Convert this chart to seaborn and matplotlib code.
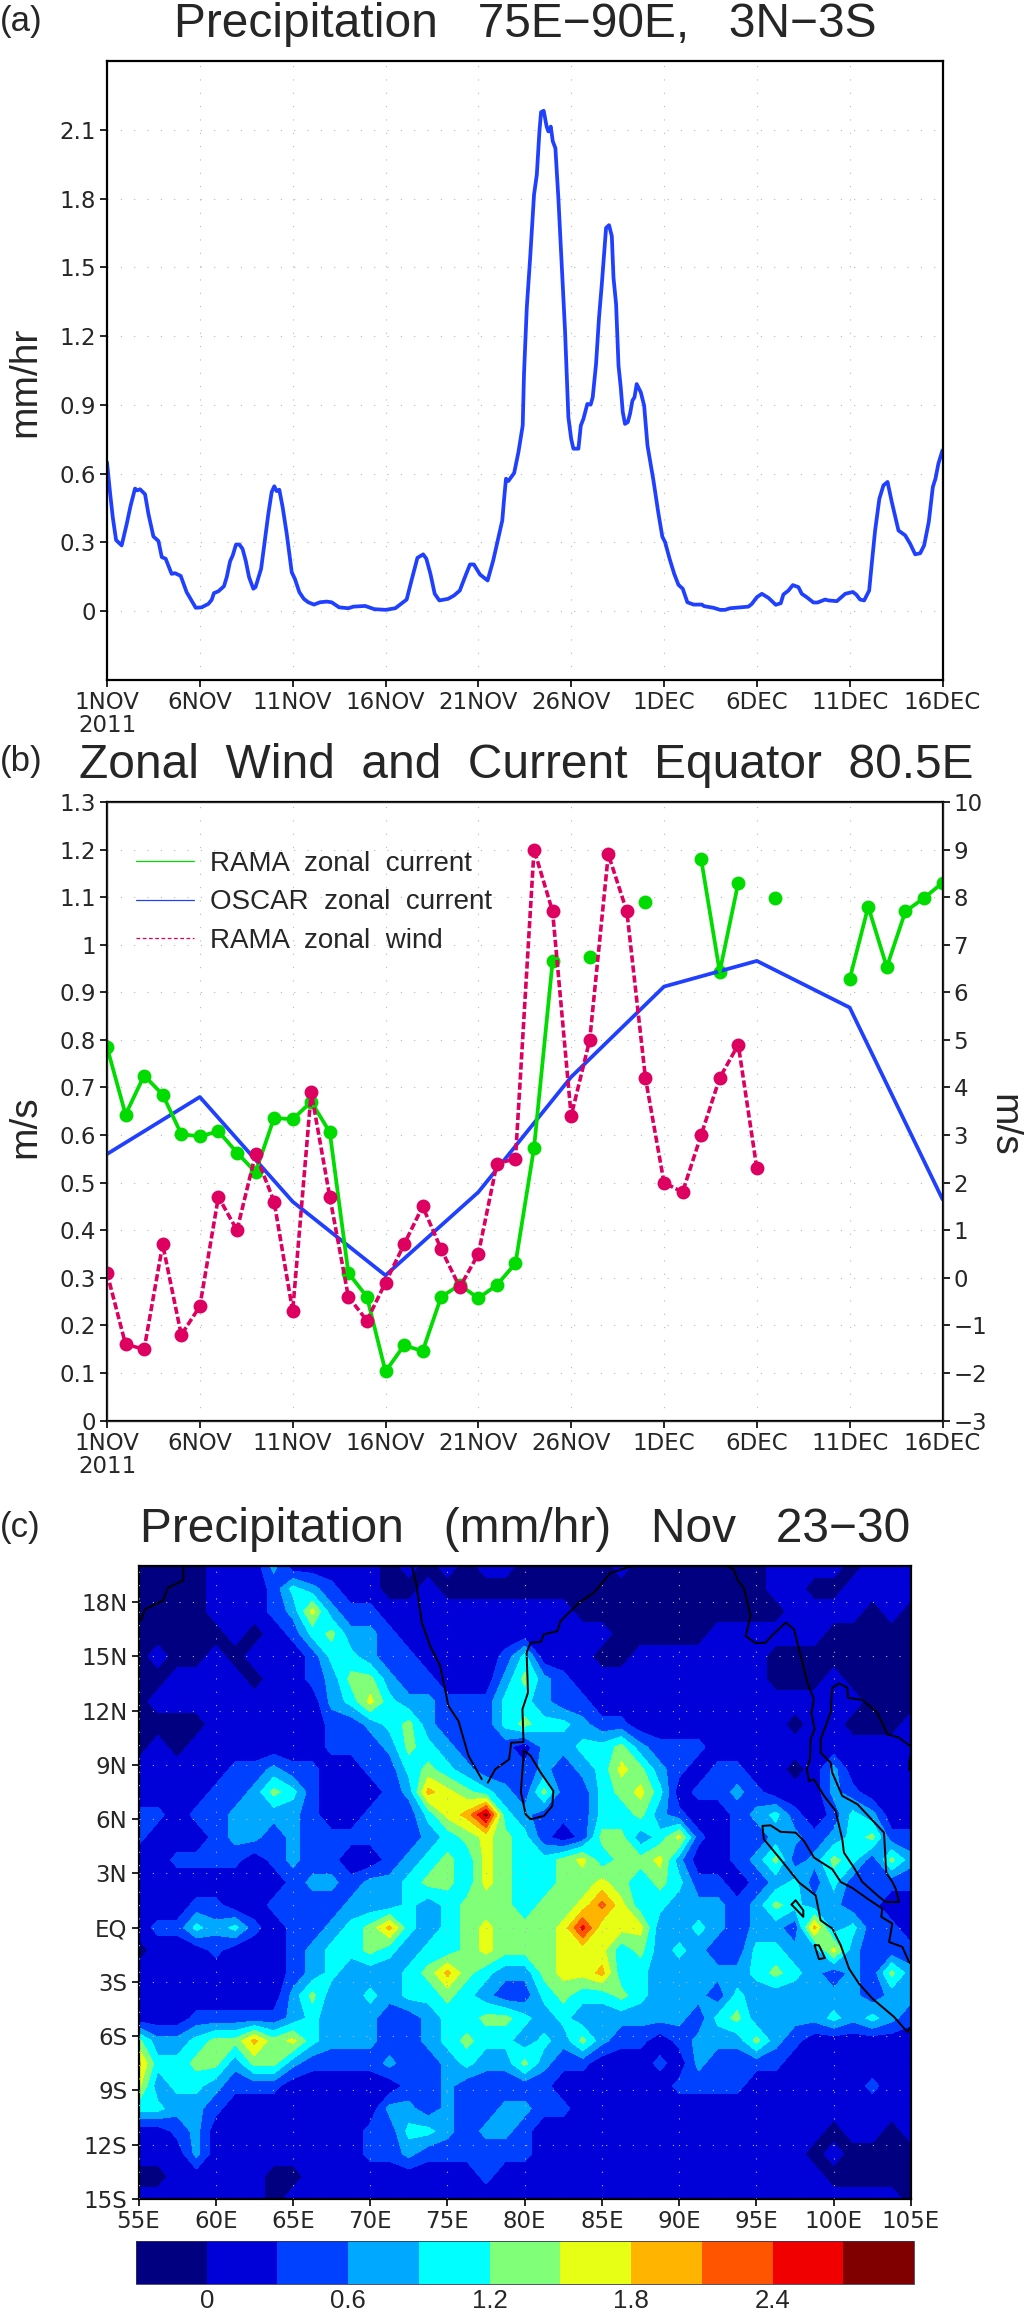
"""
Three panel figure: area mean rain, zonal wind and current, rain map.
"""
import numpy as np
import pandas as pd
import matplotlib
matplotlib.use('Agg')
import matplotlib.pyplot as plt
from matplotlib.lines import Line2D
import seaborn as sns

# panel (a), day since 1 Nov 2011 and rain in mm/hr
precip_day = [0, .16, .31, .49, .79, 1.06, 1.27, 1.51, 1.63, 1.78, 2.05, 2.23, 2.5, 2.77, 2.95, 3.16, 3.48, 3.66,
              3.97, 4.29, 4.78, 5.1, 5.46, 5.64, 5.76, 6.0, 6.3, 6.45, 6.63, 6.77, 6.95, 7.13, 7.3, 7.47, 7.65,
              7.88, 8.0, 8.3, 8.5, 8.69, 8.87, 9.01, 9.14, 9.28, 9.46, 9.68, 9.95, 10.12, 10.36, 10.6, 10.84,
              11.15, 11.47, 11.83, 12.1, 12.5, 13, 13.27, 13.9, 14.4, 15, 15.53, 16.14, 16.4, 16.72, 17.03, 17.2,
              17.42, 17.65, 17.9, 18.37, 18.68, 19.0, 19.28, 19.55, 19.76, 20.09, 20.5, 20.8, 21.11, 21.29, 21.38,
              21.49, 21.62, 21.93, 22.16, 22.39, 22.46, 22.61, 22.79, 23.0, 23.15, 23.29, 23.38, 23.52, 23.68,
              23.77, 23.9, 24.01, 24.15, 24.31, 24.49, 24.67, 24.85, 25.0, 25.12, 25.39, 25.52, 25.66, 25.87,
              26.05, 26.16, 26.34, 26.5, 26.65, 26.88, 27.04, 27.19, 27.28, 27.42, 27.55, 27.67, 27.78, 27.9,
              28.05, 28.17, 28.3, 28.41, 28.53, 28.75, 28.93, 29.11, 29.43, 29.7, 29.91, 30.06, 30.3, 30.55,
              30.78, 31.01, 31.26, 31.59, 32.04, 32.16, 32.66, 33.02, 33.29, 33.56, 34.55, 34.73, 35.0, 35.27,
              35.63, 36.02, 36.29, 36.43, 36.7, 36.94, 37.24, 37.42, 37.69, 38.05, 38.27, 38.68, 38.86, 39.31,
              39.76, 40.17, 40.35, 40.56, 40.78, 41.05, 41.19, 41.37, 41.6, 41.82, 42.04, 42.27, 42.63, 42.99,
              43.26, 43.53, 43.8, 44.01, 44.26, 44.48, 44.62, 44.78, 45.0]
precip_rate = [.65, .52, .41, .31, .287, .38, .46, .535, .527, .532, .51, .425, .326, .306, .236, .229, .163, .166,
               .154, .083, .015, .017, .032, .05, .079, .087, .109, .149, .218, .243, .291, .291, .272, .221, .149,
               .098, .105, .185, .309, .425, .52, .545, .524, .53, .454, .338, .17, .141, .083, .054, .039,
               .029, .039, .042, .039, .017, .013, .02, .023, .009, .006, .013, .051, .134, .233, .248, .229,
               .163, .076, .047, .054, .068, .09, .149, .204, .204, .16, .134, .221, .331, .396, .483,
               .578, .568, .603, .694, .81, 1.035, 1.325, 1.54, 1.817, 1.904, 2.093, 2.177, 2.183, 2.114,
               2.093, 2.114, 2.05, 2.02, 1.803, 1.513, 1.223, .846, .752, .709, .709, .81, .839, .904,
               .901, .933, 1.078, 1.281, 1.426, 1.672, 1.684, 1.636, 1.455, 1.339, 1.071, .977, .868, .817,
               .825, .861, .919, .933, .991, .955, .897, .723, .571, .426, .325, .301, .229, .163,
               .115, .098, .039, .029, .029, .022, .015, .006, .006, .013, .02, .032, .061, .076,
               .058, .028, .035, .073, .09, .114, .105, .076, .061, .038, .038, .051, .047, .044,
               .076, .084, .073, .051, .047, .09, .207, .352, .491, .549, .564, .476, .352, .331,
               .294, .248, .253, .287, .389, .542, .578, .644, .702]

# panel (b), daily values 1 Nov to 16 Dec
rama_current = [.785, .643, .725, .685, .602, .597, .608, .563, .522, .636, .633, .67, .606, .31, .26, .103, .158,
                .146, .26, .285, .257, .285, .33, .573, .965, np.nan, .975, np.nan, np.nan, 1.09, np.nan, np.nan,
                1.18, .943, 1.13, np.nan, 1.098, np.nan, np.nan, np.nan, .928, 1.08, .953, 1.07, 1.098, 1.13]
rama_wind = [.1, -1.4, -1.5, .7, -1.2, -.6, 1.7, 1.0, 2.6, 1.6, -.7, 3.9, 1.7, -.4, -.9, -.1, .7, 1.5, .6, -.2, .5,
             2.4, 2.5, 9.0, 7.7, 3.4, 5.0, 8.9, 7.7, 4.2, 2.0, 1.8, 3.0, 4.2, 4.9, 2.3]
oscar_day = [0, 5, 10, 15, 20, 25, 30, 35, 40, 45]
oscar_current = [.56, .68, .46, .305, .48, .722, .912, .966, .868, .465]

day_ticks = [0, 5, 10, 15, 20, 25, 30, 35, 40, 45]
day_labels = ['1NOV\n2011', '6NOV', '11NOV', '16NOV', '21NOV', '26NOV', '1DEC', '6DEC', '11DEC', '16DEC']
rate_ticks = [0, .3, .6, .9, 1.2, 1.5, 1.8, 2.1]
rate_labels = ['0', '0.3', '0.6', '0.9', '1.2', '1.5', '1.8', '2.1']
current_ticks = [0, .1, .2, .3, .4, .5, .6, .7, .8, .9, 1, 1.1, 1.2, 1.3]
current_labels = ['0', '0.1', '0.2', '0.3', '0.4', '0.5', '0.6', '0.7', '0.8', '0.9', '1', '1.1', '1.2', '1.3']
wind_ticks = [-3, -2, -1, 0, 1, 2, 3, 4, 5, 6, 7, 8, 9, 10]
wind_labels = ['\u22123', '\u22122', '\u22121', '0', '1', '2', '3', '4', '5', '6', '7', '8', '9', '10']

# panel (c), rain in 0.1 mm/hr, rows from 20N to 15S every 1.25 deg
rain_west = [  # 55E to 80E
    [-1, -1, -1, -1, 1, 1, 1, 7, 1, 1, 1, 1, 1, -1, 1, -1, 1, -1, 1, 1, -1],
    [-1, -1, -1, -1, 1, 1, 1, 4, 10, 7, 4, 1, 1, -1, -1, 1, -1, -1, -1, -1, -1],
    [-1, -1, -1, -1, 1, 1, 1, 4, 7, 16, 7, 4, 4, 1, 1, 1, 1, 1, 1, 1, 1],
    [-1, -1, -1, -1, -1, 1, -1, 1, 4, 10, 13, 7, 7, 4, 1, 1, 1, 1, 1, 1, 1],
    [-1, 1, -1, -1, 1, -1, 1, 1, 1, 4, 10, 10, 7, 4, 4, 1, 1, 1, 1, 4, 10],
    [-1, -1, 1, 1, 1, 1, -1, 1, 1, 4, 7, 13, 13, 7, 4, 4, 1, 1, 1, 7, 13],
    [-1, 1, 1, 1, 1, 1, 1, 1, 1, 1, 7, 10, 16, 10, 7, 7, 4, 4, 4, 10, 10],
    [-1, -1, -1, -1, 1, 1, 1, 1, 1, 1, 4, 4, 7, 10, 13, 7, 4, 4, 4, 10, 13],
    [-1, 1, -1, 1, 1, 1, 1, 1, 1, 1, 4, 4, 4, 7, 13, 10, 7, 4, 4, 4, 1],
    [1, 1, 1, 1, 1, 4, 4, 7, 4, 4, 1, 1, 4, 4, 10, 13, 10, 7, 4, 4, 4],
    [1, 1, 1, 1, 4, 4, 7, 13, 10, 4, 1, 1, 1, 4, 7, 19, 16, 13, 10, 7, 4],
    [4, 4, 1, 4, 4, 7, 7, 7, 7, 4, 1, 1, 4, 4, 4, 10, 16, 19, 28, 10, 7],
    [4, 1, 1, 1, 4, 7, 7, 4, 7, 4, 4, 4, 4, 4, 4, 7, 10, 13, 16, 13, 10],
    [1, 1, 4, 4, 4, 4, 1, 4, 7, 4, 4, 1, 1, 4, 7, 10, 13, 10, 16, 13, 10],
    [1, 1, 1, 1, 1, 1, 1, 1, 4, 7, 7, 4, 7, 7, 10, 13, 13, 10, 16, 13, 10],
    [1, 1, 1, 4, 4, 1, 1, 4, 4, 4, 4, 7, 7, 7, 10, 7, 10, 13, 13, 13, 10],
    [1, 4, 4, 10, 7, 10, 4, 1, 4, 4, 7, 10, 13, 19, 10, 7, 10, 13, 16, 13, 13],
    [-1, 1, 1, 1, 4, 1, 1, 1, 4, 7, 10, 10, 13, 10, 7, 10, 10, 13, 16, 13, 13],
    [1, 1, 1, 1, 1, 1, 1, 1, 4, 7, 10, 7, 7, 7, 10, 13, 19, 13, 10, 7, 7],
    [1, 1, 1, 1, 1, 1, 1, 1, 7, 13, 7, 7, 10, 7, 10, 10, 13, 10, 7, 4, 4],
    [1, 1, 1, 4, 4, 4, 4, 4, 7, 10, 7, 7, 7, 4, 4, 7, 10, 10, 13, 13, 10],
    [13, 7, 7, 10, 13, 13, 19, 13, 16, 10, 7, 7, 7, 4, 4, 7, 10, 13, 10, 10, 7],
    [19, 10, 10, 13, 13, 7, 13, 13, 7, 4, 4, 4, 4, 7, 4, 4, 7, 10, 7, 7, 13],
    [16, 7, 10, 10, 7, 4, 4, 4, 1, 1, 1, 1, 1, 1, 4, 4, 7, 4, 4, 4, 4],
    [10, 10, 7, 7, 4, 1, 1, 1, 1, 1, 1, 1, 1, 7, 7, 4, 7, 4, 4, 7, 7],
    [1, 1, 4, 7, 1, 1, 1, 1, 1, 1, 1, 1, 4, 4, 10, 10, 7, 4, 7, 7, 4],
    [1, 1, 1, 7, 1, 1, 1, 1, 1, 1, 1, 1, 4, 4, 7, 4, 4, 4, 4, 4, 4],
    [-1, -1, 1, 1, 1, 1, 1, -1, -1, 1, 1, 1, 1, 1, 1, 1, 1, 1, 4, 1, 1],
    [1, 1, 1, 1, 1, 1, 1, -1, 1, 1, 1, 1, 1, 1, 1, 1, 1, 1, 1, 1, 1],
]
rain_east = [  # 81.25E to 105E
    [-1, -1, -1, -1, 1, -1, -1, -1, -1, -1, -1, -1, 1, 1, 1, 1, -1, 1, 1, 1],
    [-1, -1, -1, -1, -1, -1, -1, -1, -1, -1, -1, -1, 1, 1, -1, -1, 1, 1, 1, 1],
    [1, 1, -1, -1, -1, -1, -1, -1, -1, -1, -1, -1, -1, 1, 1, 1, 1, -1, 1, -1],
    [1, 1, 1, 1, -1, -1, -1, -1, -1, 1, 1, 1, 1, 1, 1, -1, -1, -1, -1, -1],
    [1, 1, 1, -1, -1, 1, 1, 1, 1, 1, 1, 1, -1, -1, -1, -1, -1, -1, -1, -1],
    [7, 4, 1, 1, 1, 1, 1, 1, 1, 1, 1, 1, -1, -1, -1, 1, -1, -1, -1, -1],
    [7, 4, 4, 1, 1, 1, 1, 1, 1, 1, 1, 1, 1, 1, 1, 1, 1, -1, -1, -1],
    [10, 10, 7, 4, 4, 1, 1, 1, 1, 1, 1, 1, 1, -1, 1, 1, -1, -1, -1, 1],
    [7, 7, 10, 10, 13, 7, 4, 4, 4, 1, 1, 1, 1, 1, 1, 1, 1, 1, 1, 1],
    [7, 4, 7, 10, 16, 13, 7, 4, 1, 4, 4, 1, 1, -1, 1, 7, 1, 1, 1, 1],
    [13, 4, 4, 10, 13, 16, 10, 1, 4, 4, 7, 4, 1, 1, 1, 7, 4, 1, 1, 1],
    [4, 4, 4, 10, 10, 13, 7, 4, 1, 1, 4, 7, 10, 4, 1, 4, 10, 7, 1, 1],
    [4, 1, 4, 13, 13, 7, 10, 16, 4, 1, 4, 4, 7, 7, 4, 7, 10, 13, 4, 4],
    [10, 13, 16, 10, 13, 13, 16, 7, 1, 1, 4, 7, 13, 4, 7, 13, 10, 4, 13, 7],
    [10, 13, 13, 16, 13, 10, 13, 10, 4, 4, 1, 4, 7, 10, 4, 10, 4, 4, 4, 4],
    [13, 13, 16, 22, 16, 10, 10, 7, 7, 7, 4, 7, 13, 10, 7, 7, 4, 4, 1, 1],
    [13, 16, 25, 16, 16, 16, 7, 7, 10, 7, 4, 7, 7, 4, 19, 7, 10, 4, 4, 1],
    [13, 16, 16, 16, 10, 13, 7, 10, 7, 4, 4, 10, 10, 7, 7, 16, 7, 4, 4, 4],
    [13, 16, 16, 19, 10, 10, 7, 7, 7, 7, 7, 10, 13, 10, 7, 4, 7, 4, 13, 7],
    [10, 13, 10, 10, 13, 10, 7, 7, 7, 4, 10, 7, 7, 7, 7, 7, 7, 4, 7, 7],
    [7, 10, 7, 7, 7, 7, 7, 7, 4, 10, 13, 7, 7, 7, 7, 10, 7, 10, 7, 4],
    [10, 7, 13, 7, 4, 4, 1, 4, 7, 7, 7, 13, 7, 4, 1, 1, 1, 1, 1, 1],
    [7, 4, 4, 1, 1, 1, 4, 1, 7, 4, 4, 4, 4, 1, 1, 1, 1, 1, 1, 1],
    [4, 1, 1, 1, 1, 1, 1, 4, 4, 4, 4, 1, 1, 1, 1, 1, 1, 4, 1, 1],
    [4, 4, 1, 1, 1, 1, 1, 1, 1, 1, 1, 1, 1, 1, 1, 1, 1, 1, 1, 1],
    [1, 1, 1, 1, 1, 1, 1, 1, 1, 1, 1, 1, 1, 1, 1, -1, 1, 1, -1, 1],
    [1, 1, 1, 1, 1, 1, 1, 1, 1, 1, 1, 1, 1, 1, -1, 1, -1, -1, -1, -1],
    [1, 1, 1, 1, 1, 1, 1, 1, 1, 1, 1, 1, 1, 1, 1, -1, -1, -1, -1, -1],
    [1, 1, 1, 1, 1, 1, 1, 1, 1, 1, 1, 1, 1, 1, 1, 1, 1, 1, 1, -1],
]
rain_levels = [0, .3, .6, .9, 1.2, 1.5, 1.8, 2.1, 2.4, 2.7]
rain_colors = ['#000080', '#0000D8', '#0040FF', '#00A8FF', '#00FFFF', '#80FF78', '#E6FF14', '#FFB400', '#FF5500',
               '#F00000', '#800000']
bar_ticks = [0, .6, 1.2, 1.8, 2.4]
bar_labels = ['0', '0.6', '1.2', '1.8', '2.4']
lon_ticks = [55, 60, 65, 70, 75, 80, 85, 90, 95, 100, 105]
lon_labels = ['55E', '60E', '65E', '70E', '75E', '80E', '85E', '90E', '95E', '100E', '105E']
lat_ticks = [18, 15, 12, 9, 6, 3, 0, -3, -6, -9, -12, -15]
lat_labels = ['18N', '15N', '12N', '9N', '6N', '3N', 'EQ', '3S', '6S', '9S', '12S', '15S']

# coast outlines, (lon, lat)
coast_oman = [(57.9, 20), (57.9, 19.2), (56.9, 18.8), (56.6, 18.1), (55.4, 17.6), (55.2, 17.05), (55, 17)]
coast_india_w = [(72.7, 20), (73, 18.9), (73.34, 16.87), (73.88, 15.58), (74.53, 14.47), (75.06, 12.26), (75.71, 11.43),
                 (76.36, 9.5), (77.22, 8.21)]
coast_india_e = [(77.61, 8.02), (78.09, 8.76), (78.99, 9.31), (79.12, 10.23), (79.92, 10.27), (79.85, 12.08),
                 (80.21, 13), (80.12, 15.21), (80.38, 15.76), (81.03, 15.8), (81.24, 16.22), (82.11, 16.4),
                 (82.32, 16.96), (83.51, 17.97), (84.48, 18.53), (85.56, 19.63), (87, 20)]
coast_lanka = [(79.95, 9.81), (80.38, 9.5), (81.03, 8.58), (81.85, 7.56), (81.78, 6.73), (81.24, 6.18), (80.38, 6),
               (80.06, 6.27), (79.75, 7.5), (79.85, 8.7), (79.95, 9.81)]
coast_burma = [(93.11, 20), (93.54, 19.8), (93.76, 19.26), (94.19, 18.75), (94.62, 17.24), (94.3, 16.13), (94.94, 15.73),
               (95.59, 15.76), (96.02, 16.17), (96.89, 16.87), (97.43, 16.5), (97.86, 15.02), (98.29, 13.55),
               (98.72, 12.63), (98.55, 11.89), (98.76, 10.97), (98.5, 10.42), (98.46, 9.31), (98.25, 8.76), (98.4, 8.11),
               (98.72, 8.2), (99.37, 7.29), (100.12, 6.46), (100.55, 4.89), (100.66, 4.15), (101.31, 3.32),
               (101.85, 2.53), (102.82, 1.79), (103.36, 1.42), (104.22, 1.42), (104.01, 2.16), (103.79, 2.53),
               (103.4, 3.05), (103.25, 5.26), (101.53, 6.83), (100.55, 7.29), (99.9, 8.58), (99.8, 9.13), (99.15, 9.68),
               (99.15, 10.42), (99.8, 11.89), (99.9, 13.27), (100.34, 13.51), (100.88, 13.27), (100.92, 12.72),
               (101.85, 12.59), (102.82, 11.89), (103.47, 10.7), (104.22, 10.51), (104.87, 10.09), (105, 10)]
coast_cambodia = [(105, 9.6), (104.9, 9.2), (104.9, 8.7)]
coast_sumatra = [(105, -5.5), (104.76, -5.76), (103.9, -4.93), (102.5, -3.92), (101.63, -3.09), (100.99, -2.26),
                 (100.45, -.97), (99.91, -.05), (99.15, .41), (98.83, 1.79), (97.75, 2.5), (96.56, 3.78), (95.48, 4.89),
                 (95.38, 5.63), (95.92, 5.66), (96.56, 5.3), (97.53, 5.26), (98.07, 4.8), (98.72, 3.88), (99.91, 3.23),
                 (100.45, 2.53), (101.2, 2.2), (102.17, 1.61), (103.14, 1.06), (103.08, .6), (103.79, .23),
                 (103.58, -.79), (104.44, -1.06), (104.87, -1.89), (105, -2)]
coast_simeulue = [(97.27, 1.28), (97.53, 1.52), (98.03, .96), (98.03, .6), (97.27, 1.28)]
coast_nias = [(98.76, -.97), (99.04, -.97), (99.43, -1.67), (99.04, -1.74), (98.76, -.97)]

BLUE = '#2040FF'
GREEN = '#00DC00'
PINK = '#DE0060'
NARROW = 'Liberation Sans Narrow'
WIDTH, HEIGHT = 1024, 2312

sns.set_style('white')
plt.rcParams['font.family'] = ['Liberation Sans', 'DejaVu Sans']


def add_axes_px(fig, left, right, top, bottom):
    """Axes placed by pixel edges of the reference."""
    return fig.add_axes([left / WIDTH, 1 - bottom / HEIGHT, (right - left) / WIDTH, (bottom - top) / HEIGHT])


def text_px(fig, x, y, s, **kwargs):
    return fig.text(x / WIDTH, 1 - y / HEIGHT, s, **kwargs)


def style_axes(ax, xticks, xlabels, yticks, ylabels):
    ax.set_xticks(xticks, xlabels, fontfamily=NARROW, fontsize=16.5, linespacing=1.0)
    ax.set_yticks(yticks, ylabels, fontfamily=NARROW, fontsize=16.5)
    ax.tick_params(length=5, width=1.2, color='black', pad=3, bottom=True, left=True)
    ax.grid(True, color='#b8b8b8', linewidth=.8, linestyle=(0, (1, 11)))
    for spine in ax.spines.values():
        spine.set_visible(True)
        spine.set_color('black')
        spine.set_linewidth(1.6)
    ax.set_xlabel('')
    ax.set_ylabel('')


fig = plt.figure(figsize=(WIDTH / 100, HEIGHT / 100), dpi=100)

# panel (a)
ax_a = add_axes_px(fig, 107, 942.5, 61, 680)
sns.lineplot(x=precip_day, y=precip_rate, color=BLUE, linewidth=2.7, estimator=None, sort=False, ax=ax_a)
ax_a.set_xlim(0, 45)
ax_a.set_ylim(-.3, 2.4)
style_axes(ax_a, day_ticks, day_labels, rate_ticks, rate_labels)

# panel (b)
ax_b = add_axes_px(fig, 107, 942.5, 802, 1420.5)
days = np.arange(len(rama_current))
current = pd.DataFrame({'day': days, 'value': rama_current})
current['piece'] = current['value'].isna().cumsum()
sns.lineplot(x=oscar_day, y=oscar_current, color=BLUE, linewidth=2.7, estimator=None, ax=ax_b)
sns.lineplot(data=current.dropna(), x='day', y='value', units='piece', estimator=None, color=GREEN, linewidth=2.7,
             ax=ax_b)
sns.scatterplot(data=current, x='day', y='value', color=GREEN, s=100, linewidth=0, ax=ax_b)
ax_b.set_xlim(0, 45)
ax_b.set_ylim(0, 1.3)
style_axes(ax_b, day_ticks, day_labels, current_ticks, current_labels)

ax_w = ax_b.twinx()
wind_days = np.arange(len(rama_wind))
sns.lineplot(x=wind_days, y=rama_wind, color=PINK, linewidth=2.6, linestyle=(0, (2, .8)), estimator=None, ax=ax_w)
sns.scatterplot(x=wind_days, y=rama_wind, color=PINK, s=100, linewidth=0, ax=ax_w)
ax_w.set_ylim(-3, 10)
ax_w.set_yticks(wind_ticks, wind_labels, fontfamily=NARROW, fontsize=16.5)
ax_w.tick_params(axis='y', length=5, width=1.2, color='black', pad=3, right=True)
ax_w.set_ylabel('')
ax_w.grid(False)

legend_handles = [Line2D([], [], color=GREEN, linewidth=.9),
                  Line2D([], [], color=BLUE, linewidth=.9),
                  Line2D([], [], color=PINK, linewidth=.9, linestyle=(0, (3, 2)))]
ax_w.legend(legend_handles, ['RAMA  zonal  current', 'OSCAR  zonal  current', 'RAMA  zonal  wind'], frameon=False,
            fontsize=20, loc='upper left', bbox_to_anchor=(29 / 835.5, 1 - 49 / 618.5), borderpad=0, borderaxespad=0,
            handlelength=2.1, handletextpad=.55, labelspacing=.45)

# panel (c)
lon = np.linspace(55, 105, 41)
lat = np.linspace(20, -15, 29)
rain = np.hstack([np.array(rain_west), np.array(rain_east)]) / 10
ax_c = add_axes_px(fig, 138.5, 911, 1566, 2199)
filled = ax_c.contourf(lon, lat, rain, levels=rain_levels, colors=rain_colors[1:-1], extend='both')
filled.cmap.set_under(rain_colors[0])
filled.cmap.set_over(rain_colors[-1])
filled.changed()
for piece in [coast_oman, coast_india_w, coast_india_e, coast_lanka, coast_burma, coast_cambodia, coast_sumatra,
              coast_simeulue, coast_nias]:
    ax_c.plot(*zip(*piece), color='black', linewidth=1.4)
ax_c.set_xlim(55, 105)
ax_c.set_ylim(-15, 20)
style_axes(ax_c, lon_ticks, lon_labels, lat_ticks, lat_labels)
ax_c.set_axisbelow(False)

cax = add_axes_px(fig, 136, 914, 2241, 2283.5)
cbar = fig.colorbar(filled, cax=cax, orientation='horizontal', extendrect=True, extendfrac=1 / 9)
cbar.set_ticks(bar_ticks, labels=bar_labels)
cbar.ax.tick_params(length=0, pad=4, labelsize=18.5)
cbar.outline.set_linewidth(.6)
cbar.outline.set_edgecolor('#333366')

# titles and axis names
title = dict(ha='center', va='baseline', fontsize=34.5)
text_px(fig, 525, 37, 'Precipitation   75E\u221290E,   3N\u22123S', **title)
text_px(fig, 526, 778, 'Zonal  Wind  and  Current  Equator  80.5E', **title)
text_px(fig, 525, 1542, 'Precipitation   (mm/hr)   Nov   23\u221230', **title)
panel = dict(ha='left', va='baseline', fontsize=25)
text_px(fig, 0, 31, '(a)', **panel)
text_px(fig, 0, 771, '(b)', **panel)
text_px(fig, 0, 1537, '(c)', **panel)
side = dict(ha='center', va='center', fontsize=28)
text_px(fig, 25, 382, 'mm/hr', rotation=90, **side)
text_px(fig, 25, 1127, 'm/s', rotation=90, **side)
text_px(fig, 1003, 1125, 'm/s', rotation=-90, **side)

fig.savefig('out.png', dpi=100)
plt.close(fig)
